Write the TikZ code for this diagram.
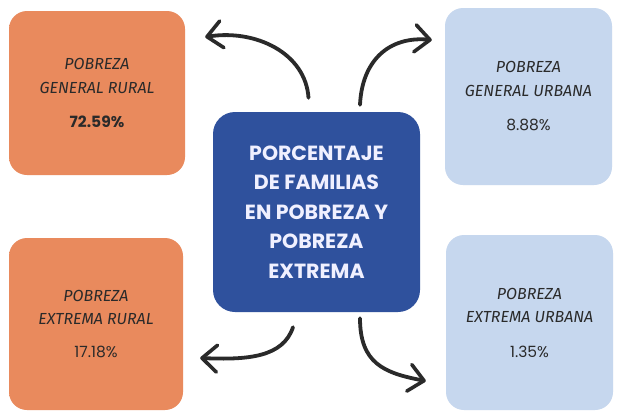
\documentclass[tikz,border=0pt]{standalone}
\usepackage{fontspec}
\setmainfont{Fira Sans}
\newfontfamily\handfont{Fira Sans}
\newfontfamily\popfont{Poppins}
\usetikzlibrary{arrows.meta,calc}
\definecolor{orng}{HTML}{E98A5D}
\definecolor{orngL}{HTML}{E07562}
\definecolor{orngR}{HTML}{EFAA5A}
\definecolor{lblue}{HTML}{C6D7EE}
\definecolor{dblue}{HTML}{2F519D}
\definecolor{ink}{HTML}{2A2A2A}
\pgfdeclarehorizontalshading{orsh}{100bp}{color(0bp)=(orngL); color(8bp)=(orng); color(88bp)=(orng); color(100bp)=(orngR)}
\newcommand{\pct}{\popfont\upshape\fontsize{15.5}{18}\selectfont}
\tikzset{
  orbox/.style={rounded corners=18pt, shading=orsh, align=center, text=ink, inner sep=0pt,
    font=\handfont\itshape\fontsize{16}{23.5}\selectfont},
  blbox/.style={rounded corners=18pt, fill=lblue, align=center, text=ink, inner sep=0pt,
    font=\handfont\itshape\fontsize{16}{23.5}\selectfont},
  cbox/.style={rounded corners=22pt, fill=dblue, align=center, text=white!94!blue, inner sep=0pt,
    font=\popfont\bfseries\fontsize{20.5}{29.5}\selectfont},
  arr/.style={line width=3.8pt, draw=ink, line cap=round,
    -{Straight Barb[length=15pt,width=27pt,line width=3.6pt,round]}}
}
\begin{document}
\begin{tikzpicture}[x=1pt,y=-1pt]
\useasboundingbox (0,0) rectangle (617,413);
\fill[white] (0,0) rectangle (617,413);
\node[orbox, minimum width=176pt, minimum height=164pt] (tl) at (97,93) {POBREZA\\GENERAL RURAL\\[11pt]\pct\bfseries 72.59\%};
\node[blbox, minimum width=167pt, minimum height=177pt] (tr) at (528.5,96.5) {POBREZA\\GENERAL URBANA\\[11pt]\pct 8.88\%};
\node[orbox, minimum width=174pt, minimum height=172pt] (bl) at (96,324) {POBREZA\\EXTREMA RURAL\\[9pt]\pct 17.18\%};
\node[blbox, minimum width=167pt, minimum height=175pt] (br) at (529.5,322.5) {POBREZA\\EXTREMA URBANA\\[11pt]\pct 1.35\%};
\node[cbox, minimum width=207pt, minimum height=200pt] (c) at (316.5,212) {PORCENTAJE\\DE FAMILIAS\\EN POBREZA Y\\POBREZA\\EXTREMA};
\coordinate (a1s) at ($(c.north)+(-8,-14)$);
\coordinate (a1e) at ($(tl.east)+(20,-56)$);
\coordinate (a2s) at ($(c.north)+(43.5,-7)$);
\coordinate (a2e) at ($(tr.west)+(-13,-56.5)$);
\coordinate (a3s) at ($(c.south)+(-23.5,15)$);
\coordinate (a3e) at ($(bl.east)+(17,34)$);
\coordinate (a4s) at ($(c.south)+(43.5,6)$);
\coordinate (a4e) at ($(br.west)+(-20,58.5)$);
\draw[arr] (a1s) .. controls +(-3,-45) and +(50,-8) .. (a1e);
\draw[arr] (a2s) .. controls +(2,-45) and +(-42,-4) .. (a2e);
\draw[arr] (a3s) .. controls +(-10,30) and +(48,2) .. (a3e);
\draw[arr] (a4s) .. controls +(0,45) and +(-42,-8) .. (a4e);
\end{tikzpicture}
\end{document}
